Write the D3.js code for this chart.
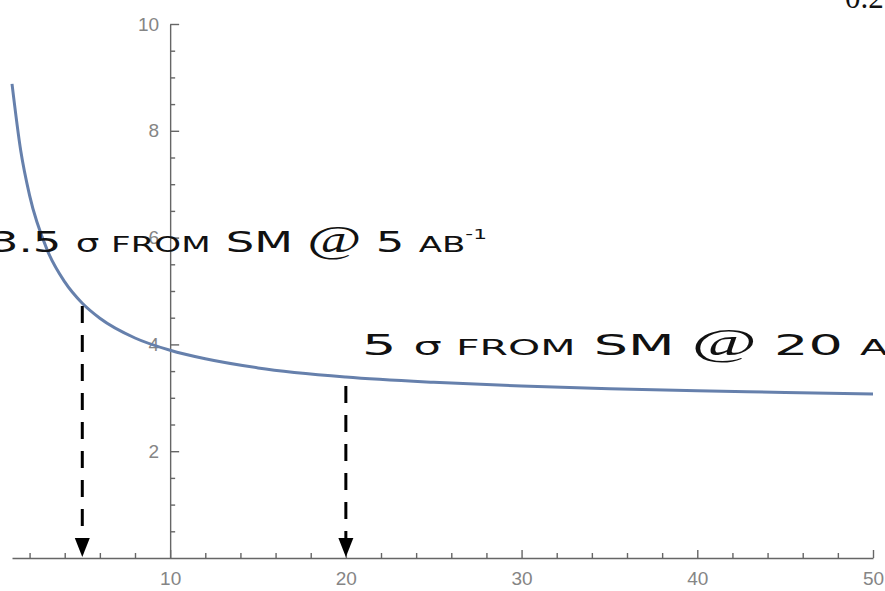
<!DOCTYPE html>
<html>
<head>
<meta charset="utf-8">
<title>Significance vs luminosity</title>
<script src="https://d3js.org/d3.v7.min.js"></script>
<style>
  body { margin: 0; background: #fff; }
  svg { display: block; }
  .axis .tick text { fill: #858585; font-family: "Liberation Sans", Arial, sans-serif; font-size: 19px; }
  .axis path, .axis line { stroke: #666; stroke-width: 1.4px; }
  .note { font-family: "DejaVu Sans", sans-serif; fill: #111; }
</style>
</head>
<body>
<svg width="885" height="591"></svg>
<script>
// curve
const lumi = [1, 1.5, 2, 3, 4, 5, 6, 8, 10, 12, 15, 20, 25, 30, 35, 40, 45, 50];
const reach = [8.88, 7.62, 6.79, 5.77, 5.17, 4.77, 4.49, 4.12, 3.89, 3.73, 3.56, 3.39, 3.29, 3.22, 3.17, 3.13, 3.10, 3.07];

const xTicks = [10, 20, 30, 40, 50];
const xMinor = [2, 4, 6, 8, 12, 14, 16, 18, 22, 24, 26, 28, 32, 34, 36, 38, 42, 44, 46, 48];
const yTicks = [2, 4, 6, 8, 10];
const yMinor = [0.5, 1, 1.5, 2.5, 3, 3.5, 4.5, 5, 5.5, 6.5, 7, 7.5, 8.5, 9, 9.5];

// dashed arrows: x position and where they start
const arrowX = [5, 20];
const arrowTop = [4.72, 3.22];

const svg = d3.select("svg");

const x = d3.scaleLinear().domain([1, 50]).range([12, 873]);
const y = d3.scaleLinear().domain([0, 10]).range([558, 24]);

// axes cross at (10, 0), ticks point inward like Mathematica
svg.append("g").attr("class", "axis")
    .attr("transform", `translate(0,${y(0)})`)
    .call(d3.axisBottom(x).tickValues(xTicks).tickSize(-8).tickSizeOuter(0).tickPadding(14));
svg.append("g").attr("class", "axis")
    .attr("transform", `translate(0,${y(0)})`)
    .call(d3.axisBottom(x).tickValues(xMinor).tickSize(-5).tickSizeOuter(0).tickFormat(""))
    .select(".domain").remove();

svg.append("g").attr("class", "axis")
    .attr("transform", `translate(${x(10)},0)`)
    .call(d3.axisLeft(y).tickValues(yTicks).tickSize(-9).tickSizeOuter(0).tickPadding(11));
svg.append("g").attr("class", "axis")
    .attr("transform", `translate(${x(10)},0)`)
    .call(d3.axisLeft(y).tickValues(yMinor).tickSize(-5).tickSizeOuter(0).tickFormat(""))
    .select(".domain").remove();

// the curve
const line = d3.line()
    .x((d, i) => x(lumi[i]))
    .y(d => y(d))
    .curve(d3.curveMonotoneX);

svg.append("path")
    .attr("d", line(reach))
    .attr("fill", "none")
    .attr("stroke", "#6680ac")
    .attr("stroke-width", 3);

// arrows down to the axis
arrowX.forEach((v, i) => {
    const px = x(v), base = y(0) - 1;
    svg.append("line")
        .attr("x1", px).attr("x2", px)
        .attr("y1", y(arrowTop[i])).attr("y2", base - 16)
        .attr("stroke", "#000")
        .attr("stroke-width", 3)
        .attr("stroke-dasharray", "17,12");
    svg.append("path")
        .attr("d", `M${px - 7.5},${base - 19} L${px + 7.5},${base - 19} L${px},${base} Z`)
        .attr("fill", "#000");
});

// annotations
function note(px, py, size, len, parts) {
    const t = svg.append("text")
        .attr("class", "note")
        .attr("x", px).attr("y", py)
        .attr("font-size", size)
        .attr("textLength", len)
        .attr("lengthAdjust", "spacingAndGlyphs");
    parts.forEach(p => {
        const s = t.append("tspan").text(p.t);
        if (p.sc) s.style("font-variant", "small-caps");
        if (p.size) s.attr("font-size", p.size);
        if (p.font) s.style("font-family", p.font);
        if (p.dy) s.attr("dy", p.dy);
    });
}

note(-10, 252, 29, 497, [
    { t: "3.5 " },
    { t: "σ ", size: 24 },
    { t: "from ", sc: true, size: 31 },
    { t: "SM " },
    { t: "@", size: 38, font: "Liberation Serif" },
    { t: " 5 " },
    { t: "ab", sc: true, size: 31 },
    { t: "-1", size: 14, dy: -13 }
]);

note(362, 355, 29, 580, [
    { t: "5 " },
    { t: "σ ", size: 24 },
    { t: "from ", sc: true, size: 31 },
    { t: "SM " },
    { t: "@", size: 38, font: "Liberation Serif" },
    { t: " 20 " },
    { t: "ab", sc: true, size: 31 },
    { t: "-1", size: 14, dy: -13 }
]);

// stray label cut at the top edge
svg.append("text")
    .attr("x", 845).attr("y", 8)
    .attr("font-family", "Liberation Serif")
    .attr("font-size", 31)
    .attr("fill", "#111")
    .text("0.2");
</script>
</body>
</html>
